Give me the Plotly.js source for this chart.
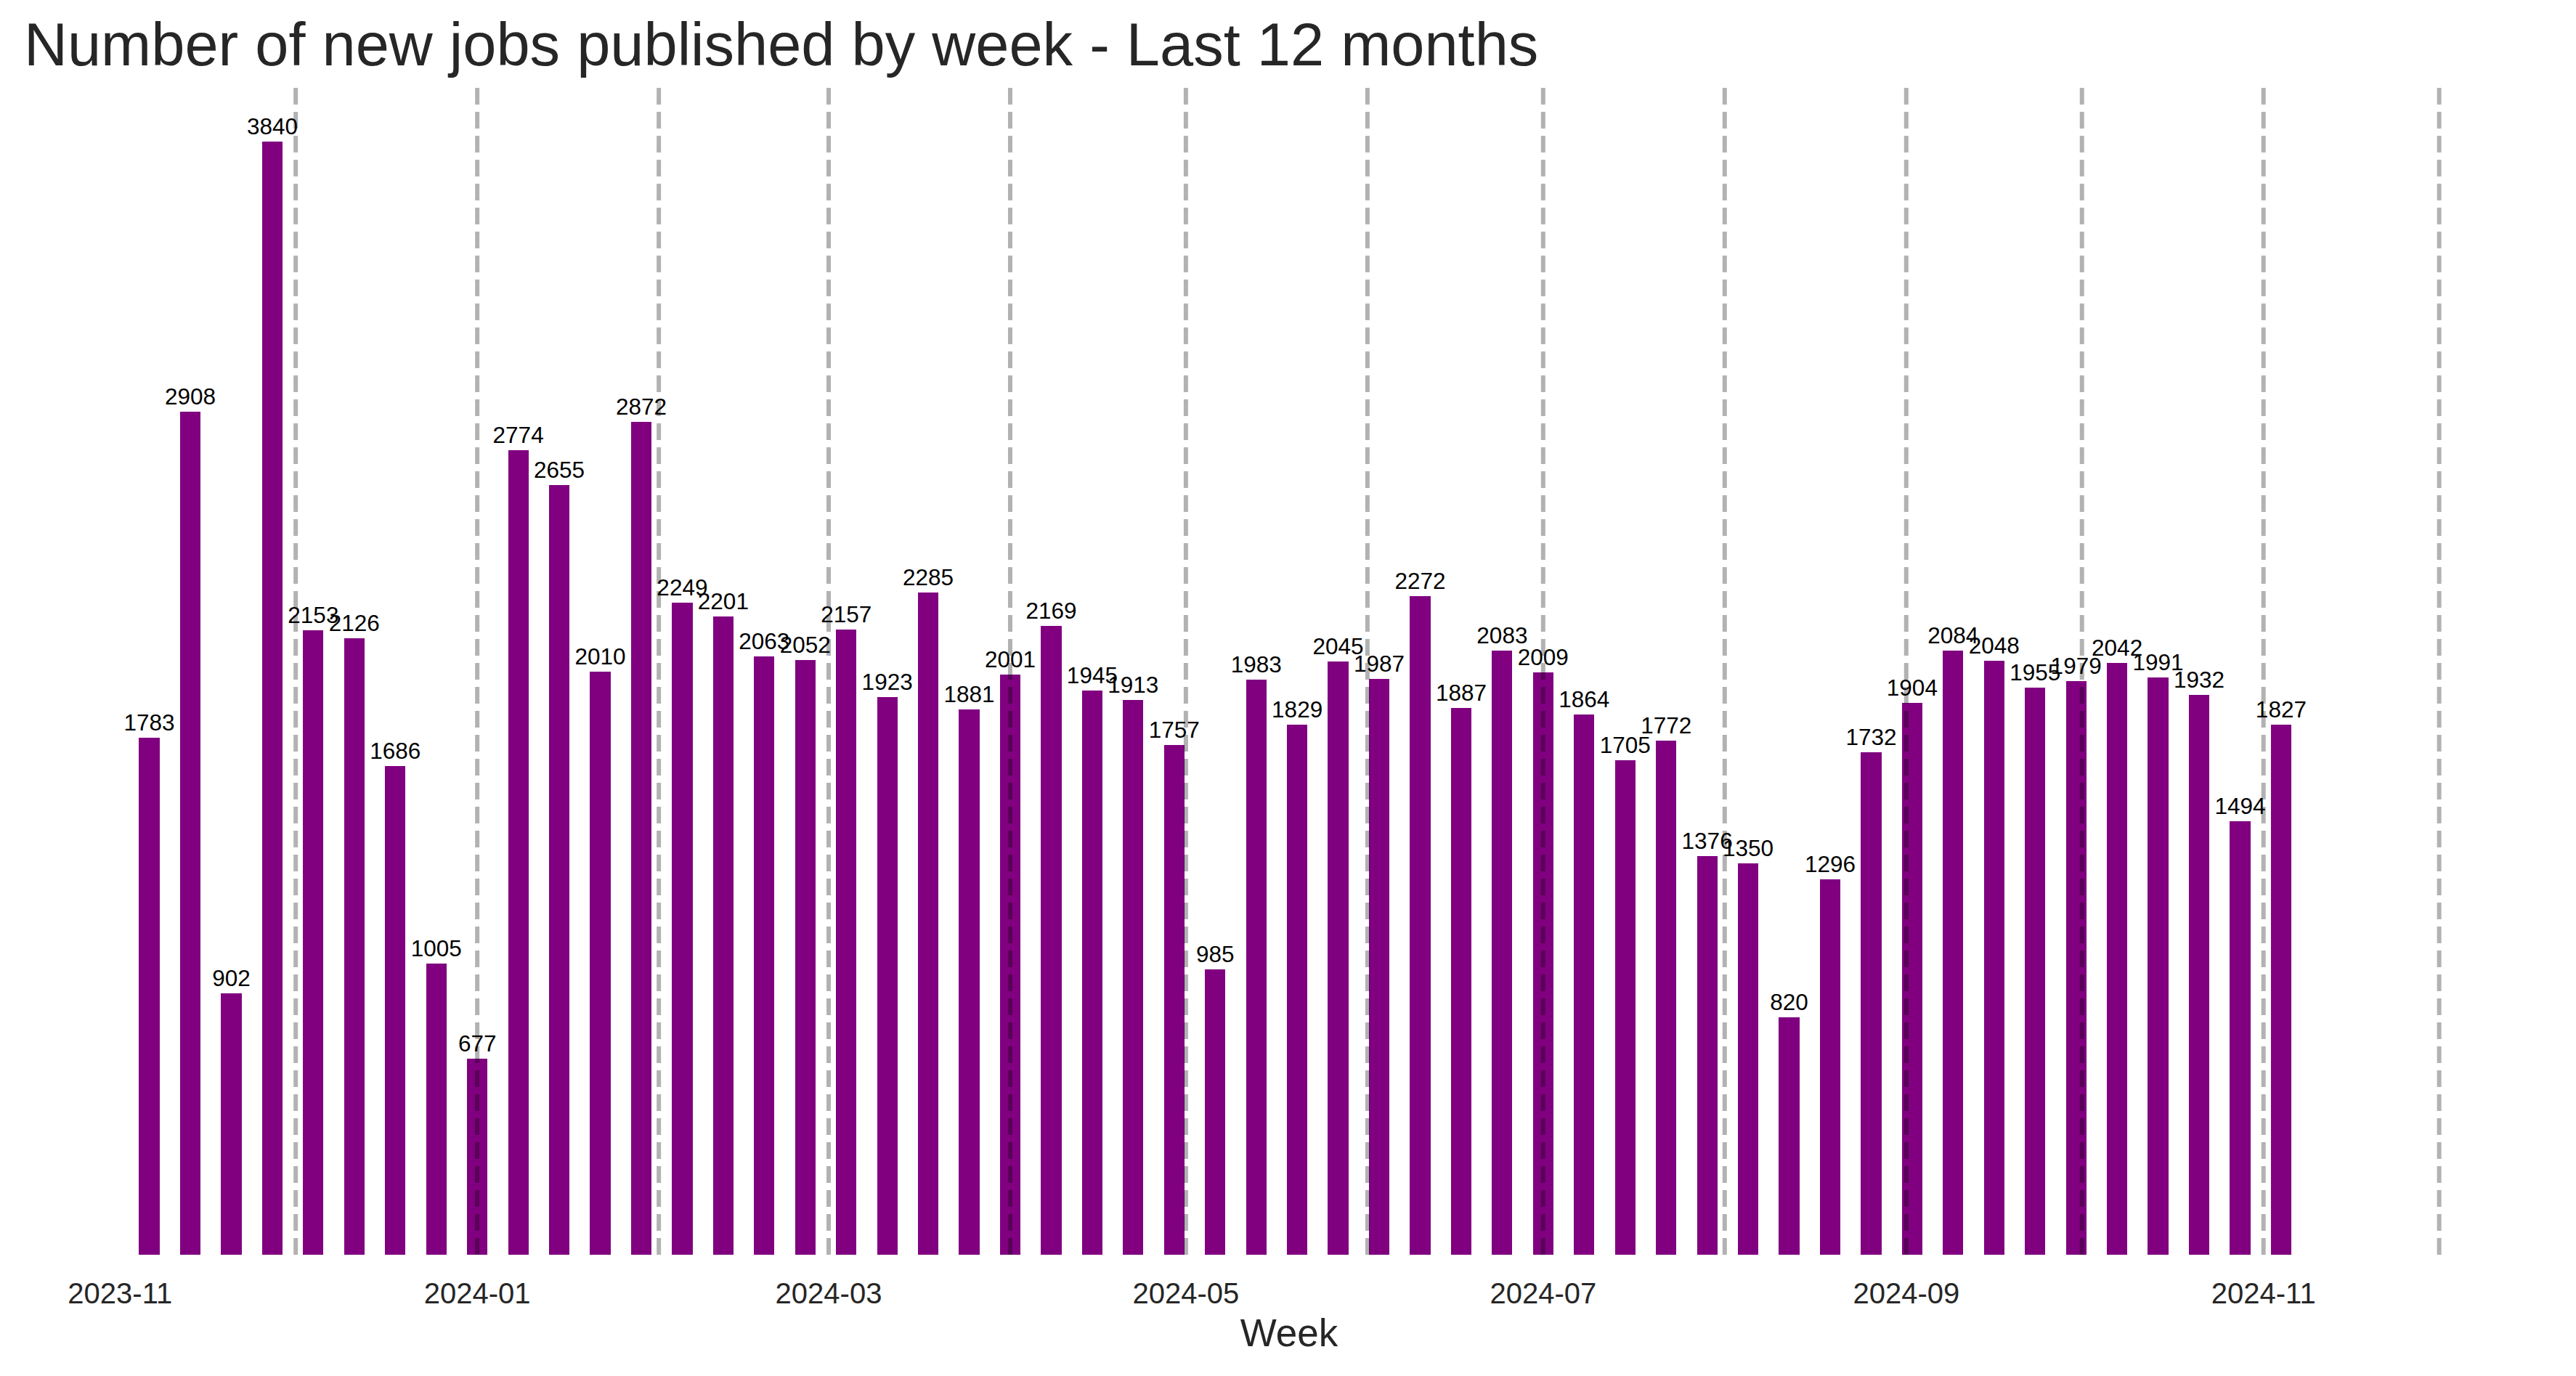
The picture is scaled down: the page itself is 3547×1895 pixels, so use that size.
<!DOCTYPE html>
<html>
<head>
<meta charset="utf-8">
<script src="https://cdn.plot.ly/plotly-3.0.1.min.js"></script>
<style>
  html, body { margin: 0; padding: 0; background: #ffffff; }
  #chart { width: 3547px; height: 1895px; }
</style>
</head>
<body>
<div id="chart"></div>
<script>
// Week (Monday of each week) and number of new jobs published
const weeks = [
  "2023-11-06", "2023-11-13", "2023-11-20", "2023-11-27",
  "2023-12-04", "2023-12-11", "2023-12-18", "2023-12-25",
  "2024-01-01", "2024-01-08", "2024-01-15", "2024-01-22", "2024-01-29",
  "2024-02-05", "2024-02-12", "2024-02-19", "2024-02-26",
  "2024-03-04", "2024-03-11", "2024-03-18", "2024-03-25",
  "2024-04-01", "2024-04-08", "2024-04-15", "2024-04-22", "2024-04-29",
  "2024-05-06", "2024-05-13", "2024-05-20", "2024-05-27",
  "2024-06-03", "2024-06-10", "2024-06-17", "2024-06-24",
  "2024-07-01", "2024-07-08", "2024-07-15", "2024-07-22", "2024-07-29",
  "2024-08-05", "2024-08-12", "2024-08-19", "2024-08-26",
  "2024-09-02", "2024-09-09", "2024-09-16", "2024-09-23", "2024-09-30",
  "2024-10-07", "2024-10-14", "2024-10-21", "2024-10-28",
  "2024-11-04"
];
const newJobs = [
  1783, 2908, 902, 3840,
  2153, 2126, 1686, 1005,
  677, 2774, 2655, 2010, 2872,
  2249, 2201, 2063, 2052,
  2157, 1923, 2285, 1881,
  2001, 2169, 1945, 1913, 1757,
  985, 1983, 1829, 2045,
  1987, 2272, 1887, 2083,
  2009, 1864, 1705, 1772, 1376,
  1350, 820, 1296, 1732,
  1904, 2084, 2048, 1955, 1979,
  2042, 1991, 1932, 1494,
  1827
];
// Month starts marked with dashed vertical lines
const monthStarts = [
  "2023-12-01", "2024-01-01", "2024-02-01", "2024-03-01", "2024-04-01",
  "2024-05-01", "2024-06-01", "2024-07-01", "2024-08-01", "2024-09-01",
  "2024-10-01", "2024-11-01", "2024-12-01"
];
// X tick labels
const tickDates = ["2023-11-01", "2024-01-01", "2024-03-01", "2024-05-01", "2024-07-01", "2024-09-01", "2024-11-01"];
const tickLabels = ["2023-11", "2024-01", "2024-03", "2024-05", "2024-07", "2024-09", "2024-11"];

const FONT = "Liberation Sans, Arial, sans-serif";
const DAY = 86400000;

const barTrace = {
  type: "bar",
  x: weeks,
  y: newJobs,
  width: weeks.map(() => 3.5 * DAY),
  marker: { color: "#800080", line: { width: 0 } },
  text: newJobs.map(v => String(v)),
  textposition: "outside",
  constraintext: "none",
  cliponaxis: false,
  textfont: { family: FONT, size: 31.5, color: "#000000" },
  hoverinfo: "x+y"
};

const shapes = monthStarts.map(d => ({
  type: "line",
  xref: "x", yref: "paper",
  x0: d, x1: d, y0: 0, y1: 1,
  line: { color: "rgba(0,0,0,0.3)", width: 6, dash: "23px,10px" },
  layer: "above"
}));

const layout = {
  width: 3547,
  height: 1895,
  paper_bgcolor: "#ffffff",
  plot_bgcolor: "#ffffff",
  margin: { l: 33, r: 30, t: 118, b: 167, pad: 0 },
  showlegend: false,
  bargap: 0,
  title: {
    text: "Number of new jobs published by week - Last 12 months",
    font: { family: FONT, size: 83, color: "#262626" },
    xref: "paper", x: 0, xanchor: "left",
    yref: "container", y: 1 - 61 / 1895, yanchor: "middle"
  },
  xaxis: {
    type: "date",
    range: ["2023-10-15 14:24", "2024-12-20 15:21"],
    tickvals: tickDates,
    ticktext: tickLabels,
    ticks: "outside",
    ticklen: 18,
    tickcolor: "rgba(0,0,0,0)",
    tickfont: { family: FONT, size: 40, color: "#262626" },
    showgrid: false,
    zeroline: false,
    showline: false,
    title: {
      text: "Week",
      font: { family: FONT, size: 53, color: "#262626" },
      standoff: 14
    },
    automargin: false
  },
  yaxis: {
    range: [0, 4032],
    showticklabels: false,
    showgrid: false,
    zeroline: false,
    showline: false,
    ticks: "",
    automargin: false
  },
  shapes: shapes
};

Plotly.newPlot("chart", [barTrace], layout, { displayModeBar: false, staticPlot: true });
</script>
</body>
</html>
